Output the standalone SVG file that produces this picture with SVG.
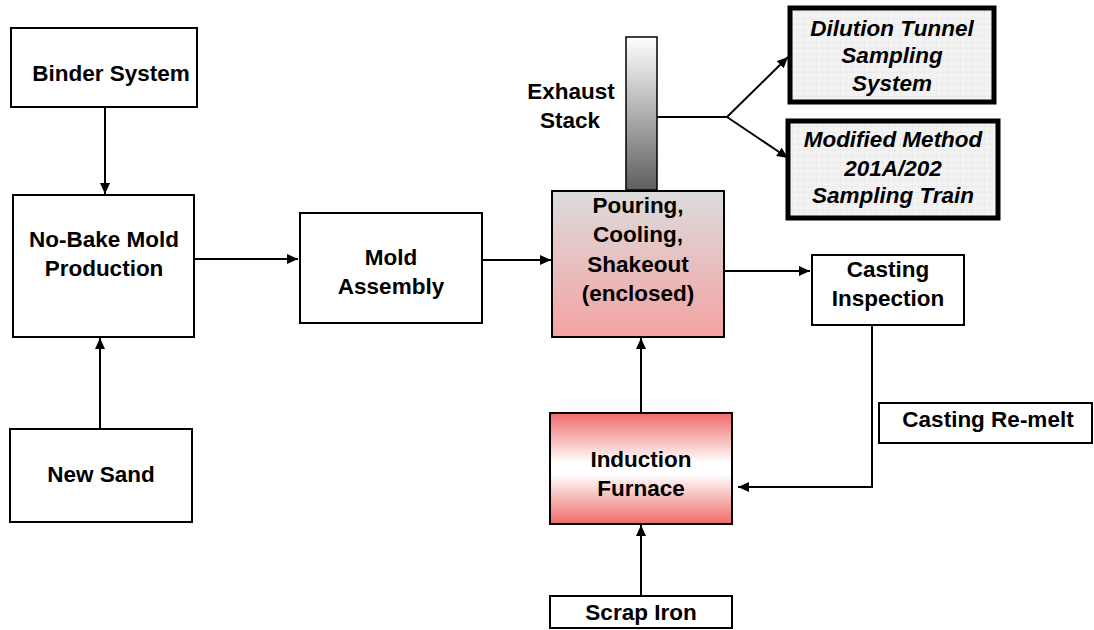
<svg xmlns="http://www.w3.org/2000/svg" width="1094" height="630" viewBox="0 0 1094 630">
<defs>
<style>
.box{fill:#fff;stroke:#000;stroke-width:2}
.t{font-family:"Liberation Sans",Arial,sans-serif;font-weight:bold;font-size:22.5px;fill:#000;text-anchor:middle}
.ti{font-style:italic}
.c{fill:none;stroke:#000;stroke-width:2}
.samp{fill:url(#grid);stroke:#000;stroke-width:5}
</style>
<marker id="ah" viewBox="0 0 11 10" refX="11" refY="5" markerWidth="11" markerHeight="10" markerUnits="userSpaceOnUse" orient="auto">
<path d="M0,0 L11,5 L0,10 z" fill="#000"/>
</marker>
<linearGradient id="gPour" x1="0" y1="0" x2="0" y2="1">
<stop offset="0" stop-color="#dcdcdc"/>
<stop offset="1" stop-color="#f4a2a2"/>
</linearGradient>
<linearGradient id="gFurn" x1="0" y1="0" x2="0" y2="1">
<stop offset="0" stop-color="#f06a6a"/>
<stop offset="0.45" stop-color="#ffffff"/>
<stop offset="0.55" stop-color="#ffffff"/>
<stop offset="1" stop-color="#f06a6a"/>
</linearGradient>
<linearGradient id="gStack" x1="0" y1="0" x2="0" y2="1">
<stop offset="0" stop-color="#ffffff"/>
<stop offset="1" stop-color="#5f5f5f"/>
</linearGradient>
<pattern id="grid" width="6" height="6" patternUnits="userSpaceOnUse">
<rect width="6" height="6" fill="#f3f3f3"/>
<path d="M0,0 H6 M0,0 V6" stroke="#dedede" stroke-width="0.6"/>
</pattern>
</defs>

<g id="connectors">
<line class="c" x1="105" y1="107" x2="105" y2="194" marker-end="url(#ah)"/>
<line class="c" x1="100" y1="429" x2="100" y2="338" marker-end="url(#ah)"/>
<line class="c" x1="194" y1="259" x2="298" y2="259" marker-end="url(#ah)"/>
<line class="c" x1="482" y1="260" x2="551" y2="260" marker-end="url(#ah)"/>
<line class="c" x1="724" y1="271" x2="810" y2="271" marker-end="url(#ah)"/>
<line class="c" x1="641" y1="413" x2="641" y2="338" marker-end="url(#ah)"/>
<line class="c" x1="641" y1="596" x2="641" y2="525" marker-end="url(#ah)"/>
<polyline class="c" points="872,325 872,487 738,487" marker-end="url(#ah)"/>
<polyline class="c" points="657,117 727,117 788,57" marker-end="url(#ah)"/>
<polyline class="c" points="727,117 788,158" marker-end="url(#ah)"/>
</g>

<g id="binder">
<rect class="box" x="11" y="28" width="186" height="79"/>
<text class="t" x="111" y="81">Binder System</text>
</g>
<g id="nobake">
<rect class="box" x="13" y="195" width="181" height="142"/>
<text class="t" x="104" y="247">No-Bake Mold</text>
<text class="t" x="104" y="276">Production</text>
</g>
<g id="newsand">
<rect class="box" x="10" y="429" width="182" height="93"/>
<text class="t" x="101" y="482">New Sand</text>
</g>
<g id="moldassembly">
<rect class="box" x="300" y="213" width="182" height="110"/>
<text class="t" x="391" y="265">Mold</text>
<text class="t" x="391" y="294">Assembly</text>
</g>
<g id="stack">
<rect x="626" y="37" width="31" height="153" fill="url(#gStack)" stroke="#000" stroke-width="1.5"/>
<text class="t" x="571" y="99">Exhaust</text>
<text class="t" x="570" y="128">Stack</text>
</g>
<g id="pouring">
<rect x="552" y="191" width="172" height="146" fill="url(#gPour)" stroke="#000" stroke-width="2"/>
<text class="t" x="638" y="213">Pouring,</text>
<text class="t" x="638" y="242">Cooling,</text>
<text class="t" x="638" y="272">Shakeout</text>
<text class="t" x="638" y="301">(enclosed)</text>
</g>
<g id="dilution">
<rect class="samp" x="790" y="8" width="204" height="94"/>
<text class="t ti" x="892" y="36">Dilution Tunnel</text>
<text class="t ti" x="892" y="63">Sampling</text>
<text class="t ti" x="892" y="91">System</text>
</g>
<g id="modified">
<rect class="samp" x="788" y="121" width="210" height="97"/>
<text class="t ti" x="893" y="147">Modified Method</text>
<text class="t ti" x="893" y="176">201A/202</text>
<text class="t ti" x="893" y="203">Sampling Train</text>
</g>
<g id="inspection">
<rect class="box" x="812" y="255" width="152" height="70"/>
<text class="t" x="888" y="277">Casting</text>
<text class="t" x="888" y="306">Inspection</text>
</g>
<g id="remelt">
<rect class="box" x="879" y="403" width="213" height="40"/>
<text class="t" x="988" y="427">Casting Re-melt</text>
</g>
<g id="furnace">
<rect x="550" y="413" width="182" height="111" fill="url(#gFurn)" stroke="#000" stroke-width="2"/>
<text class="t" x="641" y="467">Induction</text>
<text class="t" x="641" y="496">Furnace</text>
</g>
<g id="scrap">
<rect class="box" x="550" y="596" width="182" height="32"/>
<text class="t" x="641" y="620">Scrap Iron</text>
</g>
</svg>
